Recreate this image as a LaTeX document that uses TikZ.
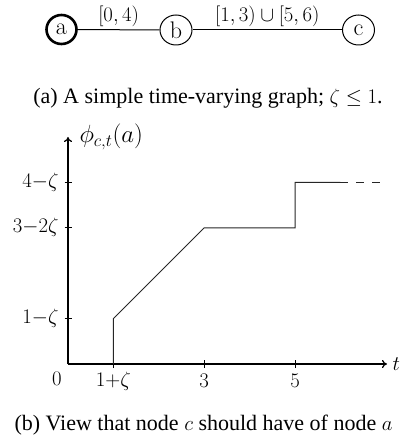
\documentclass[tikz,border=0pt]{standalone}
\usepackage{fontspec}
\newfontfamily\capfont{Liberation Serif}
\usetikzlibrary{arrows.meta,shapes.geometric}
\begin{document}
\begin{tikzpicture}[x=1pt,y=-1pt,
  vtx/.style={ellipse,draw,line width=1pt,minimum width=32pt,minimum height=30pt,inner sep=0pt,font=\fontsize{24}{27}\selectfont},
  vtxbold/.style={vtx,line width=2.6pt,minimum width=30pt,minimum height=29pt},
  elabel/.style={font=\fontsize{22}{24}\selectfont},
  caption/.style={font=\capfont\fontsize{22}{26}\selectfont},
  tlabel/.style={font=\fontsize{20}{24}\selectfont},
  axis/.style={line width=1.2pt,-{To[length=5pt,width=8pt]}},
  curve/.style={line width=1pt,black!85},
  tick/.style={line width=1pt}]
\useasboundingbox (0,0) rectangle (401,438);
% graph
\node[vtxbold] (a) at (61.5,29.5) {a};
\node[vtx] (b) at (176,30) {b};
\node[vtx] (c) at (358.5,30) {c};
\draw[line width=1pt] (a) -- node[elabel,above=-1pt] {$[0,4)$} (b);
\draw[line width=1pt] (b) -- node[elabel,above=-1pt] {$[1,3)\cup[5,6)$} (c);
\node[caption] (capa) at (208,98) {(a) A simple time-varying graph; $\zeta\leq 1$.};
% plot
\coordinate (O) at (68,364);
\coordinate (ytop) at (68,137);
\coordinate (xend) at (387,364);
\draw[axis] (O) -- (ytop);
\draw[axis] (O) -- (xend);
\node[tlabel,anchor=west,font=\fontsize{23}{26}\selectfont] (phi) at (76,137) {$\phi_{c,t}(a)$};
\node[tlabel,anchor=west] (tlab) at (389,364) {$t$};
% y ticks
\coordinate (y1) at (68,318.6);
\coordinate (y3) at (68,227.8);
\coordinate (y4) at (68,182.4);
\foreach \c in {y1,y3,y4} \draw[tick] ([xshift=-3.5pt]\c) -- ([xshift=3.5pt]\c);
\node[tlabel,anchor=east] (l1) at (62,318.6) {$1{-}\zeta$};
\node[tlabel,anchor=east] (l3) at (62,227.8) {$3{-}2\zeta$};
\node[tlabel,anchor=east] (l4) at (62,182.4) {$4{-}\zeta$};
% x ticks
\coordinate (x1) at (113.4,364);
\coordinate (x3) at (204.2,364);
\coordinate (x5) at (295,364);
\foreach \c in {x1,x3,x5} \draw[tick] ([yshift=-4pt]\c) -- ([yshift=4pt]\c);
\node[tlabel] (l0) at (57,379) {$0$};
\node[tlabel] (lx1) at (113.4,381) {$1{+}\zeta$};
\node[tlabel] (lx3) at (204.2,381) {$3$};
\node[tlabel] (lx5) at (295,381) {$5$};
% curve
\coordinate (p1) at (113.4,318.6);
\coordinate (p2) at (204.2,227.8);
\coordinate (p3) at (295,227.8);
\coordinate (p4) at (295,182.4);
\coordinate (p5) at (340.4,182.4);
\coordinate (p6) at (381,182.4);
\draw[curve] (x1) -- (p1) -- (p2) -- (p3) -- (p4) -- (p5);
\draw[curve,dash pattern=on 8pt off 8pt] (p5) -- (p6);
\node[caption,anchor=west] (capb) at (11,425) {(b) View that node $c$ should have of node $a$};
\end{tikzpicture}
\end{document}
